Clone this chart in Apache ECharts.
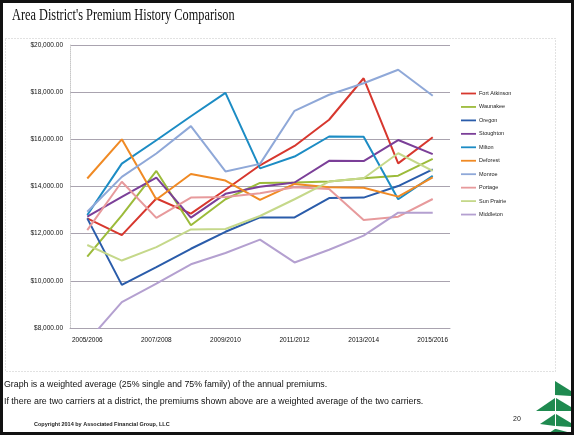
<!DOCTYPE html>
<html>
<head>
<meta charset="utf-8">
<script src="https://cdn.jsdelivr.net/npm/echarts@6/dist/echarts.min.js"></script>
<style>
  html, body { margin: 0; padding: 0; background: #ffffff; }
  #chart { width: 574px; height: 435px; }
</style>
</head>
<body>
<div id="chart"></div>
<script>
// Plan years on the category axis
const years = ['2005/2006', '2006/2007', '2007/2008', '2008/2009', '2009/2010', '2010/2011',
               '2011/2012', '2012/2013', '2013/2014', '2014/2015', '2015/2016'];

// Weighted annual premium per district ($)
const fortAtkinson = [12650, 11940, 13490, 12850, 13860, 14900, 15720, 16830, 18590, 14980, 16090];
const waunakee     = [11030, 12780, 14660, 12360, 13460, 14150, 14170, 14210, 14350, 14460, 15170];
const oregon       = [12650,  9830, 10580, 11360, 12080, 12690, 12690, 13510, 13530, 14020, 14730];
const stoughton    = [12720, 13560, 14380, 12680, 13690, 13990, 14170, 15090, 15080, 15970, 15370];
const milton       = [12790, 14970, 15960, 16980, 17970, 14770, 15270, 16120, 16110, 13460, 14450];
const deforest     = [14340, 16000, 13450, 14530, 14250, 13430, 14110, 13970, 13950, 13570, 14390];
const monroe       = [12930, 14410, 15400, 16560, 14640, 14960, 17210, 17890, 18380, 18950, 17850];
const portage      = [12150, 14200, 12670, 13530, 13550, 13710, 13970, 13890, 12580, 12720, 13470];
const sunPrairie   = [11520, 10860, 11430, 12180, 12200, 12750, 13460, 14210, 14350, 15410, 14660];
const middleton    = [ 7420,  9100,  9880, 10700, 11180, 11750, 10780, 11320, 11920, 12890, 12890];

const districtNames = ['Fort Atkinson', 'Waunakee', 'Oregon', 'Stoughton', 'Milton',
                       'Deforest', 'Monroe', 'Portage', 'Sun Prairie', 'Middleton'];
const districtValues = [fortAtkinson, waunakee, oregon, stoughton, milton,
                        deforest, monroe, portage, sunPrairie, middleton];
const districtColors = ['#D7372E', '#9CBB3A', '#2A5CAA', '#7B3F98', '#1C8CC4',
                        '#F08A24', '#8FA8D8', '#E79A9C', '#C5D88A', '#B4A0D0'];

// Y axis range and tick step
const yMin = 8000, yMax = 20000, yStep = 2000;

const noteLine1 = 'Graph is a weighted average (25% single and 75% family) of the annual premiums.';
const noteLine2 = 'If there are two carriers at a district, the premiums shown above are a weighted average of the two carriers.';
const copyright = 'Copyright 2014 by Associated Financial Group, LLC';
const pageNumber = '20';

function money(v) {
  return '$' + Number(v).toLocaleString('en-US', { minimumFractionDigits: 2, maximumFractionDigits: 2 });
}

const chart = echarts.init(document.getElementById('chart'), null, { renderer: 'canvas' });

const series = districtNames.map((name, i) => ({
  name: name,
  type: 'line',
  data: districtValues[i],
  symbol: 'none',
  clip: true,
  lineStyle: { width: 2, color: districtColors[i] },
  itemStyle: { color: districtColors[i] }
}));

// Green stacked-chevron logo in the bottom-right corner
const logoGreen = '#1F8A50';
const logoShapes = [
  [[555, 381], [571, 391], [571, 396], [555, 395]],
  [[555, 398], [536, 411], [555, 411]],
  [[556, 398], [571, 407], [571, 411], [556, 411]],
  [[555, 414], [540, 424], [555, 426]],
  [[556, 414], [571, 423], [571, 427], [556, 426]],
  [[555, 429], [546, 435], [571, 435], [571, 433], [556, 429]]
];

const graphics = [
  // slide frame
  { type: 'rect', shape: { x: 1.5, y: 1.5, width: 571, height: 432 },
    style: { fill: null, stroke: '#111', lineWidth: 3 }, z: 10 },
  // chart box
  { type: 'rect', shape: { x: 5.5, y: 38.5, width: 550, height: 333 },
    style: { fill: null, stroke: '#c4c4c4', lineWidth: 1, lineDash: [1, 2] }, z: -1 },
  // title
  { type: 'text', x: 12, y: 16, scaleX: 0.77,
    style: { text: "Area District's Premium History Comparison", fontFamily: 'Liberation Serif',
             fontSize: 16, fill: '#111', verticalAlign: 'middle', align: 'left' } },
  // notes
  { type: 'text', x: 4, y: 385,
    style: { text: noteLine1, fontFamily: 'Liberation Sans', fontSize: 8.8, fill: '#111', verticalAlign: 'middle' } },
  { type: 'text', x: 4, y: 402,
    style: { text: noteLine2, fontFamily: 'Liberation Sans', fontSize: 8.85, fill: '#111', verticalAlign: 'middle' } },
  { type: 'text', x: 34, y: 424,
    style: { text: copyright, fontFamily: 'Liberation Sans', fontSize: 5.5, fontWeight: 'bold', fill: '#222', verticalAlign: 'middle' } },
  { type: 'text', x: 513, y: 419,
    style: { text: pageNumber, fontFamily: 'Liberation Sans', fontSize: 7, fill: '#222', verticalAlign: 'middle' } }
].concat(logoShapes.map(pts => ({
  type: 'polygon', shape: { points: pts }, style: { fill: logoGreen }
})));

chart.setOption({
  backgroundColor: '#ffffff',
  animation: false,
  color: districtColors,
  grid: { left: 70, right: 124, top: 45, bottom: 107, containLabel: false },
  legend: {
    orient: 'vertical',
    left: 456,
    top: 85,
    itemWidth: 15,
    itemHeight: 7,
    itemGap: 6.45,
    icon: 'rect',
    data: districtNames.map((n, i) => ({
      name: n,
      icon: 'path://M0,0 M15,7 M0,2.6 L15,2.6 L15,4.4 L0,4.4 Z'
    })),
    textStyle: { fontFamily: 'Liberation Sans', fontSize: 5.5, color: '#222', padding: [0, 0, 0, -2] },
    selectedMode: false
  },
  xAxis: {
    type: 'category',
    data: years,
    boundaryGap: true,
    axisTick: { show: false },
    axisLine: { show: true, lineStyle: { color: '#A9A3AF', width: 1 } },
    axisLabel: { interval: 1, margin: 9, fontFamily: 'Liberation Sans', fontSize: 6.5, color: '#111' },
    splitLine: { show: false }
  },
  yAxis: {
    type: 'value',
    min: yMin,
    max: yMax,
    interval: yStep,
    axisLine: { show: true, lineStyle: { color: '#c8c8c8', type: 'dotted', width: 1 } },
    axisTick: { show: false },
    axisLabel: { formatter: money, margin: 7, fontFamily: 'Liberation Sans', fontSize: 6.5, color: '#111' },
    splitLine: { show: true, lineStyle: { color: '#A9A3AF', width: 1 } }
  },
  graphic: graphics,
  series: series
});
</script>
</body>
</html>
